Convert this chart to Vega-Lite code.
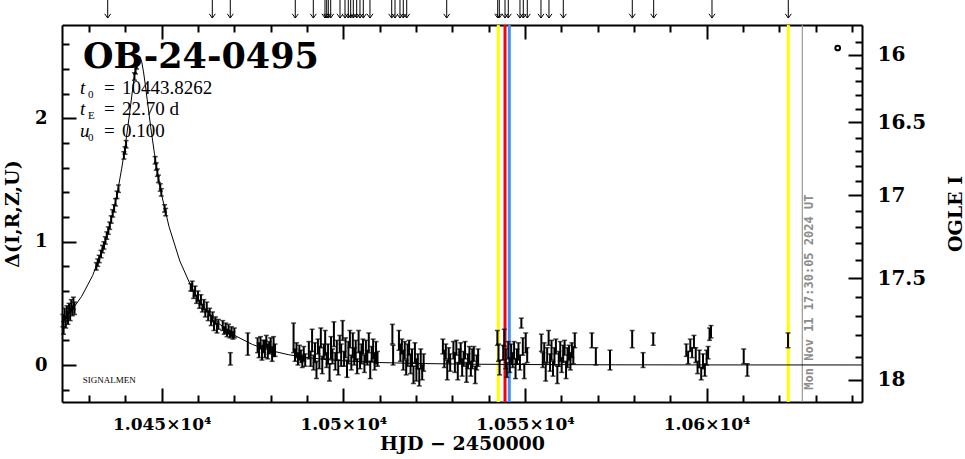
{
  "$schema": "https://vega.github.io/schema/vega-lite/v6.json",
  "width": 800,
  "height": 377,
  "autosize": {"type": "none"},
  "padding": {"left": 62, "top": 25, "right": 103, "bottom": 57},
  "background": "white",
  "config": {
    "view": {"stroke": null},
    "axis": {
      "grid": false,
      "domainColor": "black",
      "domainWidth": 2,
      "tickColor": "black",
      "tickWidth": 2,
      "labelFont": "DejaVu Serif",
      "labelFontWeight": "bold",
      "labelFontSize": 17,
      "labelColor": "black",
      "titleFont": "DejaVu Serif",
      "titleFontWeight": "bold",
      "titleFontSize": 19,
      "titleColor": "black",
      "labelOverlap": false,
      "labelBound": false,
      "labelFlush": false
    }
  },
  "datasets": {
    "curve": [
      {"t": 10422.56, "d": 0.355}, {"t": 10425, "d": 0.433}, {"t": 10428, "d": 0.558}, {"t": 10431, "d": 0.726},
      {"t": 10434, "d": 0.957}, {"t": 10436, "d": 1.163}, {"t": 10437, "d": 1.287}, {"t": 10438, "d": 1.43},
      {"t": 10439, "d": 1.595}, {"t": 10440, "d": 1.785}, {"t": 10441, "d": 2.002}, {"t": 10442, "d": 2.236},
      {"t": 10442.5, "d": 2.346}, {"t": 10443, "d": 2.437}, {"t": 10443.83, "d": 2.504}, {"t": 10444, "d": 2.501},
      {"t": 10444.5, "d": 2.459}, {"t": 10445, "d": 2.377}, {"t": 10445.5, "d": 2.27}, {"t": 10446, "d": 2.155},
      {"t": 10447, "d": 1.924}, {"t": 10448, "d": 1.716}, {"t": 10449, "d": 1.535}, {"t": 10450, "d": 1.378},
      {"t": 10452, "d": 1.124}, {"t": 10455, "d": 0.843}, {"t": 10458, "d": 0.644}, {"t": 10460, "d": 0.541},
      {"t": 10462, "d": 0.457}, {"t": 10464, "d": 0.388}, {"t": 10466, "d": 0.33}, {"t": 10470, "d": 0.241},
      {"t": 10475, "d": 0.166}, {"t": 10480, "d": 0.117}, {"t": 10485, "d": 0.083}, {"t": 10490, "d": 0.061},
      {"t": 10495, "d": 0.045}, {"t": 10500, "d": 0.034}, {"t": 10510, "d": 0.02}, {"t": 10520, "d": 0.0125},
      {"t": 10535, "d": 0.0066}, {"t": 10550, "d": 0.0038}, {"t": 10575, "d": 0.0015}, {"t": 10600, "d": 0.0008},
      {"t": 10642.76, "d": 0.0003}
    ],
    "obs": [
      {"t": 10422.8, "d": 0.36, "e": 0.05}, {"t": 10423.0, "d": 0.30, "e": 0.05}, {"t": 10423.3, "d": 0.41, "e": 0.05},
      {"t": 10423.6, "d": 0.34, "e": 0.04}, {"t": 10423.9, "d": 0.43, "e": 0.05}, {"t": 10424.2, "d": 0.38, "e": 0.05},
      {"t": 10424.5, "d": 0.46, "e": 0.04}, {"t": 10424.8, "d": 0.41, "e": 0.05}, {"t": 10425.1, "d": 0.48, "e": 0.05},
      {"t": 10425.4, "d": 0.44, "e": 0.04}, {"t": 10425.7, "d": 0.50, "e": 0.05}, {"t": 10426.0, "d": 0.46, "e": 0.05},
      {"t": 10432.0, "d": 0.80, "e": 0.03}, {"t": 10432.4, "d": 0.83, "e": 0.03}, {"t": 10432.8, "d": 0.86, "e": 0.03},
      {"t": 10433.3, "d": 0.90, "e": 0.03}, {"t": 10433.7, "d": 0.94, "e": 0.03}, {"t": 10434.1, "d": 0.97, "e": 0.03},
      {"t": 10434.5, "d": 1.01, "e": 0.03}, {"t": 10434.9, "d": 1.05, "e": 0.03}, {"t": 10435.3, "d": 1.09, "e": 0.03},
      {"t": 10435.7, "d": 1.13, "e": 0.03}, {"t": 10436.1, "d": 1.18, "e": 0.03}, {"t": 10436.5, "d": 1.23, "e": 0.03},
      {"t": 10436.9, "d": 1.27, "e": 0.03}, {"t": 10437.3, "d": 1.32, "e": 0.03}, {"t": 10437.7, "d": 1.38, "e": 0.03},
      {"t": 10438.1, "d": 1.43, "e": 0.03}, {"t": 10439.6, "d": 1.70, "e": 0.03}, {"t": 10439.9, "d": 1.74, "e": 0.03},
      {"t": 10440.2, "d": 1.79, "e": 0.03}, {"t": 10442.5, "d": 2.34, "e": 0.03}, {"t": 10442.8, "d": 2.39, "e": 0.03},
      {"t": 10443.1, "d": 2.43, "e": 0.03}, {"t": 10448.2, "d": 1.66, "e": 0.03}, {"t": 10448.5, "d": 1.61, "e": 0.03},
      {"t": 10448.8, "d": 1.56, "e": 0.03}, {"t": 10449.1, "d": 1.51, "e": 0.03}, {"t": 10449.6, "d": 1.44, "e": 0.03},
      {"t": 10449.9, "d": 1.40, "e": 0.03}, {"t": 10450.8, "d": 1.27, "e": 0.03}, {"t": 10451.1, "d": 1.24, "e": 0.03},
      {"t": 10458.0, "d": 0.63, "e": 0.03}, {"t": 10458.4, "d": 0.64, "e": 0.04}, {"t": 10458.8, "d": 0.57, "e": 0.03},
      {"t": 10459.2, "d": 0.60, "e": 0.04}, {"t": 10459.6, "d": 0.53, "e": 0.03}, {"t": 10460.0, "d": 0.56, "e": 0.04},
      {"t": 10460.4, "d": 0.49, "e": 0.03}, {"t": 10460.8, "d": 0.53, "e": 0.04}, {"t": 10461.2, "d": 0.46, "e": 0.03},
      {"t": 10461.6, "d": 0.49, "e": 0.04}, {"t": 10462.0, "d": 0.42, "e": 0.03}, {"t": 10462.4, "d": 0.47, "e": 0.04},
      {"t": 10462.8, "d": 0.40, "e": 0.04}, {"t": 10463.2, "d": 0.43, "e": 0.03}, {"t": 10463.6, "d": 0.36, "e": 0.04},
      {"t": 10464.0, "d": 0.39, "e": 0.04}, {"t": 10464.4, "d": 0.32, "e": 0.04}, {"t": 10464.8, "d": 0.36, "e": 0.03},
      {"t": 10465.2, "d": 0.30, "e": 0.04}, {"t": 10465.6, "d": 0.33, "e": 0.04},
      {"t": 10466.8, "d": 0.32, "e": 0.04}, {"t": 10467.2, "d": 0.28, "e": 0.03}, {"t": 10467.6, "d": 0.30, "e": 0.04},
      {"t": 10468.0, "d": 0.26, "e": 0.03}, {"t": 10468.4, "d": 0.29, "e": 0.04}, {"t": 10468.8, "d": 0.25, "e": 0.03},
      {"t": 10469.2, "d": 0.27, "e": 0.04}, {"t": 10469.6, "d": 0.24, "e": 0.03}, {"t": 10470.0, "d": 0.26, "e": 0.04},
      {"t": 10468.9, "d": 0.05, "e": 0.05}, {"t": 10473.7, "d": 0.17, "e": 0.09},
      {"t": 10476.4, "d": 0.16, "e": 0.06}, {"t": 10476.8, "d": 0.12, "e": 0.06}, {"t": 10477.2, "d": 0.18, "e": 0.05},
      {"t": 10477.6, "d": 0.10, "e": 0.06}, {"t": 10478.0, "d": 0.15, "e": 0.05}, {"t": 10478.4, "d": 0.13, "e": 0.07},
      {"t": 10478.8, "d": 0.19, "e": 0.05}, {"t": 10479.2, "d": 0.11, "e": 0.06}, {"t": 10479.6, "d": 0.14, "e": 0.05},
      {"t": 10480.0, "d": 0.16, "e": 0.06}, {"t": 10480.4, "d": 0.09, "e": 0.06}, {"t": 10480.8, "d": 0.15, "e": 0.08},
      {"t": 10481.2, "d": 0.12, "e": 0.05},
      {"t": 10486.3, "d": 0.22, "e": 0.12}, {"t": 10486.7, "d": 0.08, "e": 0.05}, {"t": 10487.1, "d": 0.12, "e": 0.06},
      {"t": 10487.5, "d": 0.05, "e": 0.05}, {"t": 10487.9, "d": 0.10, "e": 0.06}, {"t": 10488.3, "d": 0.07, "e": 0.05},
      {"t": 10488.7, "d": 0.03, "e": 0.05}, {"t": 10489.1, "d": 0.09, "e": 0.06}, {"t": 10489.5, "d": 0.04, "e": 0.05},
      {"t": 10490.5, "d": 0.12, "e": 0.07}, {"t": 10491.0, "d": 0.05, "e": 0.06}, {"t": 10491.4, "d": 0.20, "e": 0.09},
      {"t": 10491.8, "d": 0.02, "e": 0.06}, {"t": 10492.2, "d": 0.10, "e": 0.08}, {"t": 10492.6, "d": -0.04, "e": 0.07},
      {"t": 10493.0, "d": 0.15, "e": 0.06}, {"t": 10493.4, "d": 0.06, "e": 0.09}, {"t": 10493.8, "d": 0.22, "e": 0.08},
      {"t": 10494.2, "d": 0.00, "e": 0.07}, {"t": 10494.6, "d": 0.11, "e": 0.06}, {"t": 10495.0, "d": 0.18, "e": 0.10},
      {"t": 10495.4, "d": 0.04, "e": 0.06}, {"t": 10495.8, "d": 0.09, "e": 0.08}, {"t": 10496.2, "d": -0.06, "e": 0.07},
      {"t": 10496.6, "d": 0.14, "e": 0.09}, {"t": 10497.0, "d": 0.07, "e": 0.06}, {"t": 10497.4, "d": 0.25, "e": 0.10},
      {"t": 10497.8, "d": 0.03, "e": 0.07}, {"t": 10498.2, "d": 0.12, "e": 0.08}, {"t": 10498.6, "d": -0.02, "e": 0.06},
      {"t": 10499.0, "d": 0.17, "e": 0.07}, {"t": 10499.4, "d": 0.08, "e": 0.09}, {"t": 10499.8, "d": 0.28, "e": 0.08},
      {"t": 10500.2, "d": 0.05, "e": 0.06}, {"t": 10500.6, "d": 0.14, "e": 0.08}, {"t": 10501.0, "d": -0.03, "e": 0.07},
      {"t": 10501.4, "d": 0.10, "e": 0.09}, {"t": 10501.8, "d": 0.21, "e": 0.07}, {"t": 10502.2, "d": 0.02, "e": 0.06},
      {"t": 10502.6, "d": 0.16, "e": 0.10}, {"t": 10503.0, "d": 0.07, "e": 0.07}, {"t": 10503.4, "d": 0.12, "e": 0.08},
      {"t": 10503.8, "d": -0.01, "e": 0.06}, {"t": 10504.2, "d": 0.19, "e": 0.09}, {"t": 10504.6, "d": 0.04, "e": 0.07},
      {"t": 10505.0, "d": 0.09, "e": 0.08}, {"t": 10505.4, "d": 0.15, "e": 0.06}, {"t": 10505.8, "d": 0.01, "e": 0.07},
      {"t": 10506.2, "d": 0.11, "e": 0.09}, {"t": 10506.6, "d": 0.06, "e": 0.06}, {"t": 10507.0, "d": 0.18, "e": 0.08},
      {"t": 10507.4, "d": -0.04, "e": 0.07}, {"t": 10507.8, "d": 0.09, "e": 0.06}, {"t": 10508.2, "d": 0.13, "e": 0.08},
      {"t": 10508.6, "d": 0.03, "e": 0.07}, {"t": 10509.0, "d": 0.10, "e": 0.09}, {"t": 10509.4, "d": 0.05, "e": 0.06},
      {"t": 10513.5, "d": 0.25, "e": 0.08}, {"t": 10513.7, "d": 0.08, "e": 0.08},
      {"t": 10515.3, "d": 0.20, "e": 0.08}, {"t": 10515.7, "d": 0.10, "e": 0.07}, {"t": 10516.1, "d": 0.15, "e": 0.06},
      {"t": 10516.5, "d": 0.04, "e": 0.08}, {"t": 10516.9, "d": 0.12, "e": 0.07}, {"t": 10517.3, "d": -0.02, "e": 0.06},
      {"t": 10517.7, "d": 0.08, "e": 0.09}, {"t": 10518.1, "d": 0.14, "e": 0.06}, {"t": 10518.5, "d": 0.01, "e": 0.08},
      {"t": 10518.9, "d": 0.06, "e": 0.07}, {"t": 10519.3, "d": -0.08, "e": 0.07}, {"t": 10519.7, "d": 0.10, "e": 0.08},
      {"t": 10520.1, "d": -0.04, "e": 0.09}, {"t": 10520.5, "d": 0.03, "e": 0.06}, {"t": 10520.9, "d": -0.10, "e": 0.07},
      {"t": 10521.3, "d": 0.05, "e": 0.08}, {"t": 10521.7, "d": -0.06, "e": 0.06}, {"t": 10522.1, "d": 0.02, "e": 0.07},
      {"t": 10527.4, "d": 0.15, "e": 0.06}, {"t": 10527.8, "d": 0.05, "e": 0.07}, {"t": 10528.2, "d": 0.11, "e": 0.06},
      {"t": 10528.6, "d": -0.04, "e": 0.08}, {"t": 10529.0, "d": 0.08, "e": 0.06}, {"t": 10529.4, "d": 0.02, "e": 0.07},
      {"t": 10530.3, "d": 0.12, "e": 0.07}, {"t": 10530.7, "d": 0.02, "e": 0.08}, {"t": 10531.1, "d": 0.14, "e": 0.06},
      {"t": 10531.5, "d": -0.05, "e": 0.07}, {"t": 10531.9, "d": 0.07, "e": 0.06}, {"t": 10532.3, "d": 0.10, "e": 0.08},
      {"t": 10532.7, "d": -0.02, "e": 0.07}, {"t": 10533.1, "d": 0.05, "e": 0.06}, {"t": 10533.5, "d": 0.12, "e": 0.07},
      {"t": 10533.9, "d": -0.06, "e": 0.08}, {"t": 10534.3, "d": 0.03, "e": 0.06}, {"t": 10534.7, "d": 0.08, "e": 0.07},
      {"t": 10535.1, "d": -0.03, "e": 0.06}, {"t": 10535.5, "d": 0.05, "e": 0.08}, {"t": 10535.9, "d": 0.09, "e": 0.06},
      {"t": 10536.3, "d": -0.08, "e": 0.07}, {"t": 10536.7, "d": 0.02, "e": 0.06}, {"t": 10537.1, "d": 0.06, "e": 0.07},
      {"t": 10542.4, "d": 0.22, "e": 0.06}, {"t": 10542.7, "d": 0.10, "e": 0.07}, {"t": 10543.0, "d": -0.02, "e": 0.06},
      {"t": 10544.0, "d": 0.10, "e": 0.06}, {"t": 10544.3, "d": 0.22, "e": 0.07}, {"t": 10544.7, "d": 0.05, "e": 0.08},
      {"t": 10545.0, "d": -0.04, "e": 0.06}, {"t": 10545.4, "d": 0.12, "e": 0.07}, {"t": 10545.8, "d": 0.00, "e": 0.06},
      {"t": 10546.2, "d": 0.09, "e": 0.08}, {"t": 10546.6, "d": 0.04, "e": 0.06}, {"t": 10547.0, "d": 0.12, "e": 0.07},
      {"t": 10547.4, "d": -0.03, "e": 0.08}, {"t": 10547.8, "d": 0.07, "e": 0.06}, {"t": 10548.2, "d": 0.11, "e": 0.07},
      {"t": 10548.6, "d": 0.02, "e": 0.06}, {"t": 10549.0, "d": 0.34, "e": 0.04}, {"t": 10549.4, "d": 0.15, "e": 0.07},
      {"t": 10549.8, "d": -0.05, "e": 0.06}, {"t": 10550.2, "d": 0.18, "e": 0.08}, {"t": 10550.6, "d": 0.08, "e": 0.06},
      {"t": 10554.5, "d": 0.18, "e": 0.07}, {"t": 10554.9, "d": 0.04, "e": 0.06}, {"t": 10555.3, "d": 0.10, "e": 0.08},
      {"t": 10555.7, "d": -0.06, "e": 0.07}, {"t": 10556.1, "d": 0.08, "e": 0.06}, {"t": 10556.5, "d": 0.22, "e": 0.06},
      {"t": 10556.9, "d": 0.02, "e": 0.07}, {"t": 10557.3, "d": 0.12, "e": 0.08}, {"t": 10557.7, "d": -0.03, "e": 0.06},
      {"t": 10558.1, "d": 0.07, "e": 0.07}, {"t": 10558.5, "d": 0.15, "e": 0.06}, {"t": 10558.9, "d": -0.08, "e": 0.07},
      {"t": 10559.3, "d": 0.05, "e": 0.06}, {"t": 10559.7, "d": 0.11, "e": 0.08}, {"t": 10560.1, "d": 0.00, "e": 0.06},
      {"t": 10560.5, "d": 0.09, "e": 0.07}, {"t": 10560.9, "d": 0.14, "e": 0.06}, {"t": 10561.3, "d": -0.04, "e": 0.07},
      {"t": 10561.7, "d": 0.06, "e": 0.08}, {"t": 10562.1, "d": 0.10, "e": 0.06}, {"t": 10562.5, "d": 0.03, "e": 0.07},
      {"t": 10562.9, "d": 0.12, "e": 0.06}, {"t": 10563.3, "d": 0.08, "e": 0.07}, {"t": 10563.7, "d": 0.20, "e": 0.06},
      {"t": 10568.4, "d": 0.20, "e": 0.06}, {"t": 10569.5, "d": 0.07, "e": 0.07}, {"t": 10573.4, "d": 0.04, "e": 0.08},
      {"t": 10579.5, "d": 0.21, "e": 0.07}, {"t": 10582.5, "d": 0.04, "e": 0.06}, {"t": 10585.3, "d": 0.21, "e": 0.05},
      {"t": 10594.4, "d": 0.12, "e": 0.05}, {"t": 10594.9, "d": 0.06, "e": 0.05}, {"t": 10595.5, "d": 0.16, "e": 0.05},
      {"t": 10596.0, "d": 0.10, "e": 0.04}, {"t": 10596.5, "d": 0.19, "e": 0.05}, {"t": 10597.0, "d": 0.08, "e": 0.06},
      {"t": 10597.5, "d": -0.02, "e": 0.05}, {"t": 10598.0, "d": 0.05, "e": 0.07}, {"t": 10598.5, "d": -0.07, "e": 0.05},
      {"t": 10599.0, "d": 0.03, "e": 0.06}, {"t": 10599.5, "d": -0.04, "e": 0.05}, {"t": 10600.0, "d": 0.06, "e": 0.06},
      {"t": 10600.4, "d": 0.10, "e": 0.05}, {"t": 10600.8, "d": 0.25, "e": 0.05}, {"t": 10601.2, "d": 0.27, "e": 0.05},
      {"t": 10610.2, "d": 0.07, "e": 0.06}, {"t": 10611.2, "d": -0.04, "e": 0.05}, {"t": 10622.4, "d": 0.20, "e": 0.06}
    ],
    "arrows": [
      {"t": 10435.14}, {"t": 10463.93}, {"t": 10468.88}, {"t": 10486.77}, {"t": 10491.73}, {"t": 10494.95},
      {"t": 10495.42}, {"t": 10495.86}, {"t": 10496.52}, {"t": 10499.08}, {"t": 10500.46}, {"t": 10501.36},
      {"t": 10502.02}, {"t": 10502.74}, {"t": 10503.67}, {"t": 10504.58}, {"t": 10505.49}, {"t": 10507.33},
      {"t": 10513.31}, {"t": 10514.22}, {"t": 10515.59}, {"t": 10516.5}, {"t": 10517.44}, {"t": 10528.45},
      {"t": 10542.49}, {"t": 10542.93}, {"t": 10544.5}, {"t": 10545.4}, {"t": 10548.62}, {"t": 10549.53},
      {"t": 10550.63}, {"t": 10554.4}, {"t": 10556.6}, {"t": 10560.54}, {"t": 10579.53}, {"t": 10585.42},
      {"t": 10601.47}, {"t": 10622.47}
    ],
    "events": [
      {"t": 10542.65, "kind": "A"}, {"t": 10544.5, "kind": "B"}, {"t": 10545.68, "kind": "C"}, {"t": 10622.48, "kind": "A"}
    ],
    "now": [{"t": 10626.33, "stamp": "Mon Nov 11 17:30:05 2024 UT"}],
    "params": [
      {"v": "t", "s": "0", "val": "10443.8262", "yl": 2.195},
      {"v": "t", "s": "E", "val": "22.70 d", "yl": 2.028},
      {"v": "u", "s": "0", "val": "0.100", "yl": 1.847}
    ],
    "event_name": [{"label": "OB-24-0495"}],
    "credit": [{"label": "SIGNALMEN"}],
    "marker": [{"t": 10636.07, "d": 2.571}]
  },
  "resolve": {"axis": {"x": "independent", "y": "independent"}},
  "layer": [
    {
      "data": {"name": "events"},
      "mark": {"type": "rule", "strokeWidth": 3},
      "encoding": {
        "x": {"field": "t", "type": "quantitative", "scale": {"domain": [10422.56, 10642.76], "nice": false, "zero": false}, "axis": null},
        "color": {"field": "kind", "type": "nominal", "scale": {"domain": ["A", "B", "C"], "range": ["#ffff00", "#ff0000", "#3f8fff"]}, "legend": null}
      }
    },
    {
      "data": {"name": "now"},
      "mark": {"type": "rule", "strokeWidth": 1.2, "color": "#999999"},
      "encoding": {
        "x": {"field": "t", "type": "quantitative", "scale": {"domain": [10422.56, 10642.76], "nice": false, "zero": false}, "axis": null}
      }
    },
    {
      "data": {"name": "curve"},
      "mark": {"type": "line", "color": "black", "strokeWidth": 1},
      "encoding": {
        "x": {
          "field": "t", "type": "quantitative",
          "scale": {"domain": [10422.56, 10642.76], "nice": false, "zero": false},
          "axis": {
            "orient": "bottom",
            "values": [10430, 10440, 10450, 10460, 10470, 10480, 10490, 10500, 10510, 10520, 10530, 10540, 10550, 10560, 10570, 10580, 10590, 10600, 10610, 10620, 10630, 10640],
            "labelExpr": "datum.value % 50 == 0 ? (datum.value / 10000) + '×10⁴' : ''",
            "tickSize": {"condition": {"test": "datum.value % 50 == 0", "value": -14}, "value": -7},
            "labelPadding": 28,
            "labelFontSize": 17,
            "title": "HJD − 2450000",
            "titlePadding": -5
          }
        },
        "y": {
          "field": "d", "type": "quantitative",
          "scale": {"domain": [-0.3, 2.7575], "nice": false, "zero": false},
          "axis": {
            "orient": "left",
            "values": [-0.2, 0, 0.2, 0.4, 0.6, 0.8, 1, 1.2, 1.4, 1.6, 1.8, 2, 2.2, 2.4, 2.6],
            "labelExpr": "datum.value % 1 == 0 ? format(datum.value, 'd') : ''",
            "tickSize": {"condition": {"test": "datum.value % 1 == 0", "value": -14}, "value": -7},
            "labelPadding": 29,
            "labelFontSize": 18,
            "title": "Δ(I,R,Z,U)",
            "titlePadding": 12
          }
        }
      }
    },
    {
      "data": {"name": "obs"},
      "mark": {"type": "errorbar", "ticks": {"size": 5, "thickness": 1.5}, "rule": {"strokeWidth": 2}, "color": "black"},
      "encoding": {
        "x": {"field": "t", "type": "quantitative", "scale": {"domain": [10422.56, 10642.76], "nice": false, "zero": false}, "axis": null},
        "y": {"field": "d", "type": "quantitative", "scale": {"domain": [-0.3, 2.7575], "nice": false, "zero": false}, "axis": null},
        "yError": {"field": "e"}
      }
    },
    {
      "data": {"name": "marker"},
      "mark": {"type": "point", "shape": "circle", "filled": false, "color": "black", "strokeWidth": 2, "size": 22, "opacity": 1},
      "encoding": {
        "x": {
          "field": "t", "type": "quantitative",
          "scale": {"domain": [10422.56, 10642.76], "nice": false, "zero": false},
          "axis": {
            "orient": "top",
            "values": [10430, 10440, 10450, 10460, 10470, 10480, 10490, 10500, 10510, 10520, 10530, 10540, 10550, 10560, 10570, 10580, 10590, 10600, 10610, 10620, 10630, 10640],
            "labels": false,
            "tickSize": {"condition": {"test": "datum.value % 50 == 0", "value": -14}, "value": -7},
            "title": null
          }
        },
        "y": {
          "field": "d", "type": "quantitative",
          "scale": {"domain": [-0.3, 2.7575], "nice": false, "zero": false},
          "axis": {
            "orient": "right",
            "values": [2.623, 2.516, 2.407, 2.3, 2.186, 2.079, 1.97, 1.844, 1.733, 1.611, 1.49, 1.377, 1.247, 1.12, 0.99, 0.85, 0.702, 0.553, 0.397, 0.243, 0.067, -0.121],
            "labelExpr": "datum.value == 2.516 ? '16' : datum.value == 1.97 ? '16.5' : datum.value == 1.377 ? '17' : datum.value == 0.702 ? '17.5' : datum.value == -0.121 ? '18' : ''",
            "tickSize": {"condition": {"test": "datum.value == 2.516 || datum.value == 1.97 || datum.value == 1.377 || datum.value == 0.702 || datum.value == -0.121", "value": -14}, "value": -7},
            "labelPadding": 29,
            "labelFontSize": 20,
            "title": "OGLE I",
            "titleAngle": 270,
            "titleBaseline": "top",
            "titlePadding": 21
          }
        }
      }
    },
    {
      "data": {"name": "event_name"},
      "mark": {"type": "text", "font": "DejaVu Serif", "fontWeight": "bold", "fontSize": 35, "align": "left", "baseline": "alphabetic", "color": "black"},
      "encoding": {
        "text": {"field": "label"},
        "x": {"datum": 10428.34, "type": "quantitative", "axis": null},
        "y": {"datum": 2.409, "type": "quantitative", "axis": null}
      }
    },
    {
      "data": {"name": "params"},
      "layer": [
        {
          "mark": {"type": "text", "font": "Liberation Serif", "fontStyle": "italic", "fontSize": 19, "align": "left", "baseline": "alphabetic", "color": "black"},
          "encoding": {"text": {"field": "v"}}
        },
        {
          "mark": {"type": "text", "font": "Liberation Serif", "fontSize": 11, "align": "left", "baseline": "alphabetic", "dx": 8, "dy": 4, "color": "black"},
          "encoding": {"text": {"field": "s"}}
        },
        {
          "mark": {"type": "text", "text": "=", "font": "Liberation Serif", "fontSize": 19, "align": "left", "baseline": "alphabetic", "dx": 24, "color": "black"},
          "encoding": {}
        },
        {
          "mark": {"type": "text", "font": "Liberation Serif", "fontSize": 19, "align": "left", "baseline": "alphabetic", "dx": 42, "color": "black"},
          "encoding": {"text": {"field": "val"}}
        }
      ],
      "encoding": {
        "x": {"datum": 10427.51, "type": "quantitative", "axis": null},
        "y": {"field": "yl", "type": "quantitative", "axis": null}
      }
    },
    {
      "data": {"name": "credit"},
      "mark": {"type": "text", "font": "Liberation Serif", "fontSize": 9, "align": "left", "baseline": "middle", "color": "black"},
      "encoding": {
        "text": {"field": "label"},
        "x": {"datum": 10428.25, "type": "quantitative", "axis": null},
        "y": {"datum": -0.122, "type": "quantitative", "axis": null}
      }
    },
    {
      "data": {"name": "now"},
      "mark": {"type": "text", "font": "DejaVu Sans Mono", "fontWeight": "bold", "fontSize": 12, "angle": 270, "align": "left", "baseline": "middle", "color": "#8c8c8c"},
      "encoding": {
        "text": {"field": "stamp"},
        "x": {"datum": 10628.2, "type": "quantitative", "axis": null},
        "y": {"datum": -0.2, "type": "quantitative", "axis": null}
      }
    },
    {
      "data": {"name": "arrows"},
      "layer": [
        {
          "mark": {"type": "rule", "color": "black", "strokeWidth": 1},
          "encoding": {
            "y": {"datum": 2.814, "type": "quantitative", "axis": null},
            "y2": {"datum": 2.96}
          }
        },
        {
          "mark": {"type": "point", "shape": "M-1,-1.4L0,0L1,-1.4", "filled": false, "color": "black", "strokeWidth": 1, "size": 36, "opacity": 1},
          "encoding": {
            "y": {"datum": 2.814, "type": "quantitative", "axis": null}
          }
        }
      ],
      "encoding": {
        "x": {"field": "t", "type": "quantitative", "axis": null}
      }
    }
  ]
}
